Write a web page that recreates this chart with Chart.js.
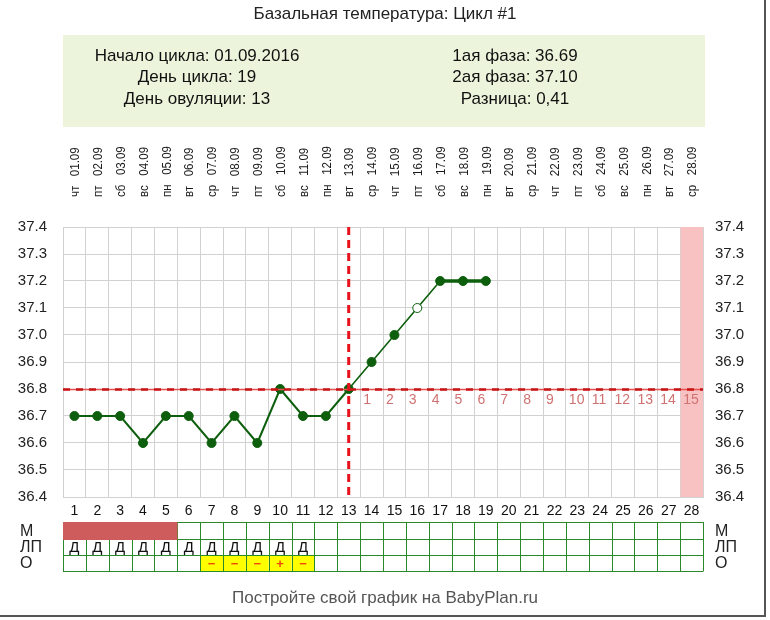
<!DOCTYPE html>
<html lang="ru">
<head>
<meta charset="utf-8">
<title>Базальная температура: Цикл #1</title>
<script src="https://cdn.jsdelivr.net/npm/chart.js@4.4.1/dist/chart.umd.min.js"></script>
<style>
  html, body { margin: 0; padding: 0; background: #fff; }
  #wrap { width: 770px; height: 620px; }
</style>
</head>
<body>
<div id="wrap"><canvas id="bbt" width="770" height="620"></canvas></div>
<script>
// данные графика
const cycleDays = ['1', '2', '3', '4', '5', '6', '7', '8', '9', '10', '11', '12', '13', '14',
  '15', '16', '17', '18', '19', '20', '21', '22', '23', '24', '25', '26', '27', '28'];
const weekDays = ['чт', 'пт', 'сб', 'вс', 'пн', 'вт', 'ср', 'чт', 'пт', 'сб', 'вс', 'пн', 'вт', 'ср',
  'чт', 'пт', 'сб', 'вс', 'пн', 'вт', 'ср', 'чт', 'пт', 'сб', 'вс', 'пн', 'вт', 'ср'];
const dates = ['01.09', '02.09', '03.09', '04.09', '05.09', '06.09', '07.09', '08.09', '09.09', '10.09',
  '11.09', '12.09', '13.09', '14.09', '15.09', '16.09', '17.09', '18.09', '19.09', '20.09',
  '21.09', '22.09', '23.09', '24.09', '25.09', '26.09', '27.09', '28.09'];
const temperatures = [36.7, 36.7, 36.7, 36.6, 36.7, 36.7, 36.6, 36.7, 36.6, 36.8,
  36.7, 36.7, 36.8, 36.9, 37.0, 37.1, 37.2, 37.2, 37.2,
  null, null, null, null, null, null, null, null, null];
const doubtfulDays = ['16'];
const tempMin = 36.4;
const tempMax = 37.4;
const tempStep = 0.1;
const coverLine = 36.8;
const ovulationDay = '13';
const lutealNumbers = ['1', '2', '3', '4', '5', '6', '7', '8', '9', '10', '11', '12', '13', '14', '15'];
const expectedPeriodDay = '28';
const mensesDays = ['1', '2', '3', '4', '5'];
const mucusRow = ['Д', 'Д', 'Д', 'Д', 'Д', 'Д', 'Д', 'Д', 'Д', 'Д', 'Д', '', '', '', '',
  '', '', '', '', '', '', '', '', '', '', '', '', ''];
const ovTestRow = ['', '', '', '', '', '', '−', '−', '−', '+', '−', '', '', '', '',
  '', '', '', '', '', '', '', '', '', '', '', '', ''];
const rowLabels = ['М', 'ЛП', 'О'];
const title = 'Базальная температура: Цикл #1';
const infoLeft = ['Начало цикла: 01.09.2016', 'День цикла: 19', 'День овуляции: 13'];
const infoRight = ['1ая фаза: 36.69', '2ая фаза: 37.10', 'Разница: 0,41'];
const footer = 'Постройте свой график на BabyPlan.ru';

const FONT = "'Liberation Sans', Arial, sans-serif";
const GREEN = '#0d5f0d';
const topLabels = weekDays.map((d, i) => d + '   ' + dates[i]);

function cell(x, i) {
  const c = x.getPixelForValue(i);
  const half = (x.getPixelForValue(1) - x.getPixelForValue(0)) / 2;
  return { c, l: c - half, r: c + half };
}

const extras = {
  id: 'extras',
  beforeDraw(chart) {
    const { ctx, scales: { x } } = chart;
    ctx.save();
    ctx.fillStyle = '#fff';
    ctx.fillRect(0, 0, chart.width, chart.height);
    ctx.fillStyle = '#222';
    ctx.font = '17px ' + FONT;
    ctx.textAlign = 'center';
    ctx.textBaseline = 'middle';
    ctx.fillText(title, 385, 14);
    // info box
    ctx.fillStyle = '#ecf5dc';
    ctx.fillRect(63, 35, 642, 92);
    ctx.fillStyle = '#111';
    ctx.font = '17px ' + FONT;
    infoLeft.forEach((t, i) => ctx.fillText(t, 197, 56 + i * 21.5));
    infoRight.forEach((t, i) => ctx.fillText(t, 515, 56 + i * 21.5));
    // day-of-week / date labels above the plot, on the x scale
    ctx.fillStyle = '#1a1a1a';
    ctx.font = '11.5px ' + FONT;
    ctx.textAlign = 'left';
    topLabels.forEach((t, i) => {
      ctx.save();
      ctx.translate(x.getPixelForValue(i) + 1, 197);
      ctx.rotate(-Math.PI / 2);
      ctx.scale(1, 1.18);
      ctx.fillText(t, 0, 0);
      ctx.restore();
    });
    // frame
    ctx.strokeStyle = '#555';
    ctx.lineWidth = 2;
    ctx.beginPath();
    ctx.moveTo(765, 0); ctx.lineTo(765, 616); ctx.lineTo(0, 616);
    ctx.stroke();
    ctx.restore();
  },
  beforeDatasetsDraw(chart) {
    const { ctx, chartArea: a, scales: { x, y } } = chart;
    ctx.save();
    const p = cell(x, cycleDays.indexOf(expectedPeriodDay));
    ctx.fillStyle = '#f9c2c2';
    ctx.fillRect(p.l + 0.5, a.top, p.r - p.l - 0.5, a.bottom - a.top);
    // luteal day numbers
    const yc = y.getPixelForValue(coverLine);
    const start = cycleDays.indexOf(ovulationDay) + 1;
    ctx.fillStyle = '#d07272';
    ctx.font = '14px ' + FONT;
    ctx.textAlign = 'left';
    ctx.textBaseline = 'middle';
    lutealNumbers.forEach((t, k) => {
      const cc = cell(x, start + k);
      ctx.fillText(t, cc.l + 3, yc + 11);
    });
    ctx.restore();
  },
  afterDatasetsDraw(chart) {
    const { ctx, chartArea: a, scales: { x, y } } = chart;
    ctx.save();
    const yc = Math.round(y.getPixelForValue(coverLine)) + 0.5;
    ctx.strokeStyle = '#e65050';
    ctx.lineWidth = 1.5;
    ctx.beginPath(); ctx.moveTo(a.left, yc); ctx.lineTo(a.right, yc); ctx.stroke();
    ctx.strokeStyle = '#c81414';
    ctx.lineWidth = 2.5;
    ctx.setLineDash([7, 6]);
    ctx.beginPath(); ctx.moveTo(a.left, yc); ctx.lineTo(a.right, yc); ctx.stroke();
    const xo = x.getPixelForValue(cycleDays.indexOf(ovulationDay));
    ctx.strokeStyle = '#e8121c';
    ctx.lineWidth = 3;
    ctx.setLineDash([8, 5]);
    ctx.beginPath(); ctx.moveTo(xo, a.top); ctx.lineTo(xo, a.bottom); ctx.stroke();
    ctx.restore();
  },
  afterDraw(chart) {
    const { ctx, scales: { x } } = chart;
    const rows = [522, 539, 555, 571];
    const n = cycleDays.length;
    const left = cell(x, 0).l, right = cell(x, n - 1).r;
    ctx.save();
    // yellow test cells
    ovTestRow.forEach((t, i) => {
      if (!t) return;
      const c = cell(x, i);
      ctx.fillStyle = '#ffff00';
      ctx.fillRect(c.l, rows[2], c.r - c.l, rows[3] - rows[2]);
    });
    // grid
    ctx.strokeStyle = '#2a8a2a';
    ctx.lineWidth = 1;
    ctx.beginPath();
    rows.forEach(r => { ctx.moveTo(left, r + 0.5); ctx.lineTo(right, r + 0.5); });
    for (let i = 0; i <= n; i++) {
      const xx = Math.round(i < n ? cell(x, i).l : right) + 0.5;
      ctx.moveTo(xx, rows[0]); ctx.lineTo(xx, rows[3] + 0.5);
    }
    ctx.stroke();
    // menses block
    const m0 = cell(x, cycleDays.indexOf(mensesDays[0]));
    const m1 = cell(x, cycleDays.indexOf(mensesDays[mensesDays.length - 1]));
    ctx.fillStyle = '#cf5c5c';
    ctx.fillRect(Math.round(m0.l), rows[0], Math.round(m1.r) - Math.round(m0.l) + 0.5, rows[1] - rows[0] + 1);
    // texts
    ctx.textAlign = 'center';
    ctx.textBaseline = 'middle';
    ctx.font = '15px ' + FONT;
    mucusRow.forEach((t, i) => {
      if (!t) return;
      ctx.fillStyle = '#111';
      ctx.fillText(t, cell(x, i).c, (rows[1] + rows[2]) / 2 + 1);
    });
    ctx.font = 'bold 13px ' + FONT;
    ovTestRow.forEach((t, i) => {
      if (!t) return;
      ctx.fillStyle = '#f04a00';
      ctx.fillText(t, cell(x, i).c, (rows[2] + rows[3]) / 2 + 1);
    });
    // row labels
    ctx.font = '16px ' + FONT;
    ctx.fillStyle = '#222';
    ctx.textAlign = 'left';
    rowLabels.forEach((t, i) => {
      const yy = (rows[i] + rows[i + 1]) / 2 + 1;
      ctx.fillText(t, 20, yy);
      ctx.fillText(t, 715, yy);
    });
    // footer
    ctx.font = '17px ' + FONT;
    ctx.fillStyle = '#555';
    ctx.textAlign = 'center';
    ctx.fillText(footer, 385, 598);
    ctx.restore();
  }
};

const yTickOpts = {
  stepSize: tempStep,
  color: '#222',
  font: { family: FONT, size: 15 },
  callback: v => Number(v).toFixed(1)
};

new Chart(document.getElementById('bbt'), {
  type: 'line',
  data: {
    labels: cycleDays,
    datasets: [{
      data: temperatures,
      borderColor: GREEN,
      borderWidth: 2,
      spanGaps: false,
      pointRadius: 4.5,
      pointHoverRadius: 4.5,
      pointBorderWidth: 1,
      pointBorderColor: GREEN,
      pointBackgroundColor: ctx => doubtfulDays.includes(cycleDays[ctx.dataIndex]) ? '#ffffff' : GREEN,
      segment: {
        borderWidth: ctx => ctx.p0DataIndex >= 16 ? 3.5 : (ctx.p0DataIndex >= 12 ? 1.6 : 2)
      }
    }]
  },
  options: {
    responsive: false,
    animation: false,
    layout: { padding: { top: 227, left: 0, right: 0, bottom: 0 } },
    plugins: { legend: { display: false }, tooltip: { enabled: false } },
    scales: {
      x: {
        type: 'category',
        position: 'bottom',
        offset: true,
        grid: { offset: true, color: '#d2d2d2', drawTicks: false },
        border: { color: '#d2d2d2' },
        ticks: { autoSkip: false, maxRotation: 0, padding: 6, color: '#111', font: { family: FONT, size: 14 } },
        afterFit: s => { s.height = 123; }
      },
      y: {
        position: 'left',
        min: tempMin,
        max: tempMax,
        grid: { color: '#d2d2d2', drawTicks: false },
        border: { color: '#d2d2d2' },
        ticks: Object.assign({ padding: 16 }, yTickOpts),
        afterFit: s => { s.width = 63; }
      },
      y2: {
        position: 'right',
        min: tempMin,
        max: tempMax,
        grid: { display: false, drawTicks: false },
        border: { color: '#d2d2d2' },
        ticks: Object.assign({ padding: 12 }, yTickOpts),
        afterFit: s => { s.width = 67; }
      }
    }
  },
  plugins: [extras]
});
</script>
</body>
</html>
